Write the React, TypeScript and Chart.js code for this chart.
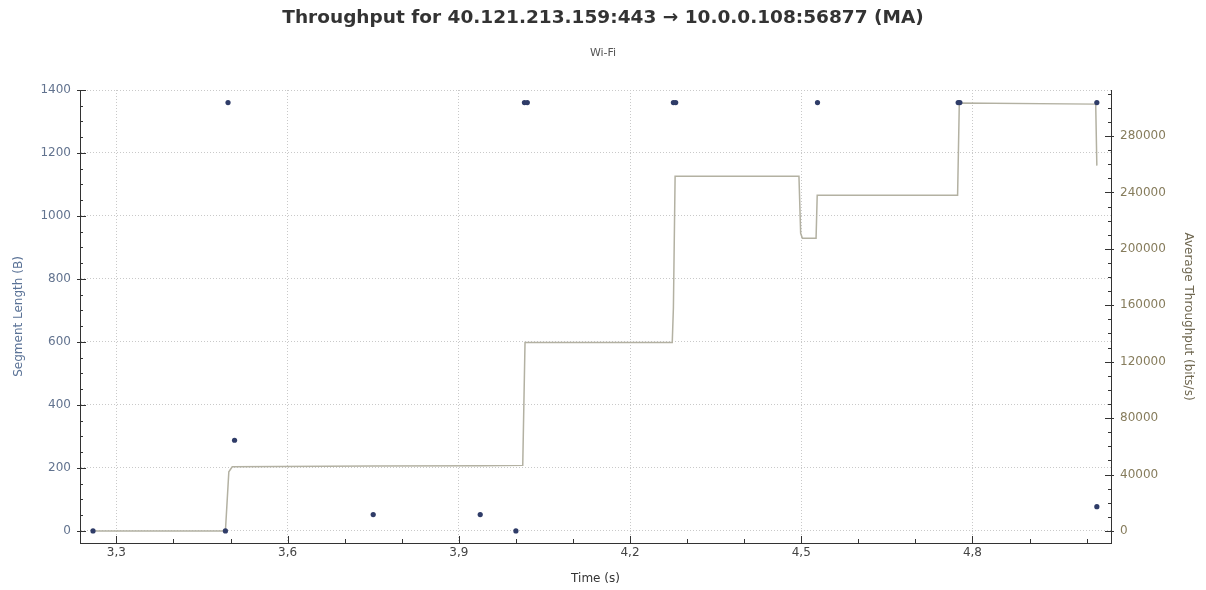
import React, { useEffect, useRef } from "react";
import { Chart, registerables } from "chart.js";

Chart.register(...registerables);

// ---- data ----
const segTimes = [3.259, 3.491, 3.4956, 3.507, 3.75, 3.9375, 4.0, 4.015, 4.02, 4.276, 4.28, 4.5285, 4.775, 4.778, 5.018, 5.018];
const segLengths = [0, 0, 1360, 288, 52, 52, 0, 1360, 1360, 1360, 1360, 1360, 1360, 1360, 1360, 77];

const tputTimes = [3.259, 3.491, 3.497, 3.503, 3.75, 3.94, 4.012, 4.016, 4.274, 4.276, 4.279, 4.496, 4.499, 4.502, 4.526, 4.528, 4.774, 4.777, 5.016, 5.018];
const tputValues = [0, 0, 42000, 45500, 46000, 46200, 46500, 133600, 133600, 158000, 251500, 251500, 211000, 207500, 207500, 238000, 238000, 303400, 302600, 259000];

const xTickValues = [3.3, 3.6, 3.9, 4.2, 4.5, 4.8];
const leftTickValues = [0, 200, 400, 600, 800, 1000, 1200, 1400];
const rightTickValues = [0, 40000, 80000, 120000, 160000, 200000, 240000, 280000];

const TITLE = "Throughput for 40.121.213.159:443 \u2192 10.0.0.108:56877 (MA)";
const SUBTITLE = "Wi-Fi";

const X_MIN = 3.2362;
const X_MAX = 5.0428;
const Y_MIN = -38.2;
const Y_MAX = 1400;
const Y1_MIN = -8526;
const Y1_MAX = 312611;

const FONT = "'DejaVu Sans', sans-serif";

const innerTicks = {
  id: "innerTicks",
  afterDraw(chart: any) {
    const { ctx, chartArea: a, scales } = chart;
    const sx = scales.x, sy = scales.y, sy1 = scales.y1;
    ctx.save();
    ctx.strokeStyle = "#333";
    ctx.lineWidth = 1;
    ctx.beginPath();
    for (let i = 33; i <= 50; i++) {
      const v = i / 10;
      const px = Math.round(sx.getPixelForValue(v)) + 0.5;
      const major = xTickValues.some((t) => Math.abs(t - v) < 1e-6);
      const len = major ? 7 : 4;
      ctx.moveTo(px, a.bottom);
      ctx.lineTo(px, a.bottom - len);
    }
    for (let v = 0; v <= 1400; v += 50) {
      const py = Math.round(sy.getPixelForValue(v)) + 0.5;
      const major = v % 200 === 0;
      ctx.moveTo(a.left - (major ? 3 : 0), py);
      ctx.lineTo(a.left + (major ? 6 : 3), py);
    }
    for (let v = 0; v <= 310000; v += 10000) {
      const py = Math.round(sy1.getPixelForValue(v)) + 0.5;
      const major = v % 40000 === 0;
      ctx.moveTo(a.right + (major ? 3 : 0), py);
      ctx.lineTo(a.right - (major ? 6 : 3), py);
    }
    ctx.stroke();
    ctx.restore();
  },
};

export default function App() {
  const ref = useRef<HTMLCanvasElement | null>(null);

  useEffect(() => {
    if (!ref.current) return;
    const chart = new Chart(ref.current, {
      type: "scatter",
      data: {
        datasets: [
          {
            label: "Average Throughput",
            data: tputTimes.map((t, i) => ({ x: t, y: tputValues[i] })),
            showLine: true,
            borderColor: "#b3b1a2",
            borderWidth: 1.5,
            pointRadius: 0,
            yAxisID: "y1",
            order: 2,
          },
          {
            label: "Segment Length",
            data: segTimes.map((t, i) => ({ x: t, y: segLengths[i] })),
            showLine: false,
            pointRadius: 2.6,
            pointBackgroundColor: "#2f3c68",
            pointBorderColor: "#2f3c68",
            pointBorderWidth: 0,
            yAxisID: "y",
            order: 1,
          },
        ],
      },
      options: {
        responsive: false,
        animation: false,
        layout: { padding: 0 },
        plugins: {
          legend: { display: false },
          tooltip: { enabled: false },
          title: {
            display: true,
            text: TITLE,
            color: "#333",
            font: { family: FONT, size: 18.5, weight: "bold" },
            padding: { top: 7, bottom: 8 },
          },
          subtitle: {
            display: true,
            text: SUBTITLE,
            color: "#555",
            font: { family: FONT, size: 11 },
            padding: { top: 9, bottom: 30.6 },
          },
        },
        scales: {
          x: {
            type: "linear",
            min: X_MIN,
            max: X_MAX,
            afterBuildTicks: (s: any) => {
              s.ticks = xTickValues.map((v) => ({ value: v }));
            },
            afterFit: (s: any) => {
              s.height = 47;
            },
            ticks: {
              callback: (v: any) => Number(v).toFixed(1).replace(".", ","),
              color: "#444",
              font: { family: FONT, size: 12 },
              padding: 3,
              maxRotation: 0,
              autoSkip: false,
            },
            grid: { color: "#c9c9c9", drawTicks: false },
            border: { display: true, color: "#333", width: 1, dash: [1, 2] },
            title: {
              display: true,
              text: "Time (s)",
              color: "#333",
              font: { family: FONT, size: 12 },
              padding: { top: 4, bottom: 4 },
            },
          },
          y: {
            type: "linear",
            position: "left",
            min: Y_MIN,
            max: Y_MAX,
            afterBuildTicks: (s: any) => {
              s.ticks = leftTickValues.map((v) => ({ value: v }));
            },
            afterFit: (s: any) => {
              s.width = 80;
            },
            ticks: {
              callback: (v: any) => String(v),
              color: "#62738f",
              font: { family: FONT, size: 12 },
              padding: 9,
            },
            grid: { color: "#c9c9c9", drawTicks: false },
            border: { display: true, color: "#333", width: 1, dash: [1, 2] },
            title: {
              display: true,
              text: "Segment Length (B)",
              color: "#5b7397",
              font: { family: FONT, size: 12 },
              padding: { top: 12, bottom: 0 },
            },
          },
          y1: {
            type: "linear",
            position: "right",
            min: Y1_MIN,
            max: Y1_MAX,
            afterBuildTicks: (s: any) => {
              s.ticks = rightTickValues.map((v) => ({ value: v }));
            },
            afterFit: (s: any) => {
              s.width = 95;
            },
            ticks: {
              callback: (v: any) => String(v),
              color: "#867c5c",
              font: { family: FONT, size: 12 },
              padding: 9,
            },
            grid: { display: false, drawTicks: false },
            border: { display: true, color: "#333", width: 1 },
            title: {
              display: true,
              text: "Average Throughput (bits/s)",
              color: "#6f6750",
              font: { family: FONT, size: 12 },
              padding: { top: 11, bottom: 0 },
            },
          },
        },
      },
      plugins: [innerTicks],
    } as any);
    return () => chart.destroy();
  }, []);

  return (
    <div style={{ position: "absolute", left: 0, top: 0, width: 1206, height: 590, background: "#fff" }}>
      <canvas ref={ref} width={1206} height={590} />
    </div>
  );
}
